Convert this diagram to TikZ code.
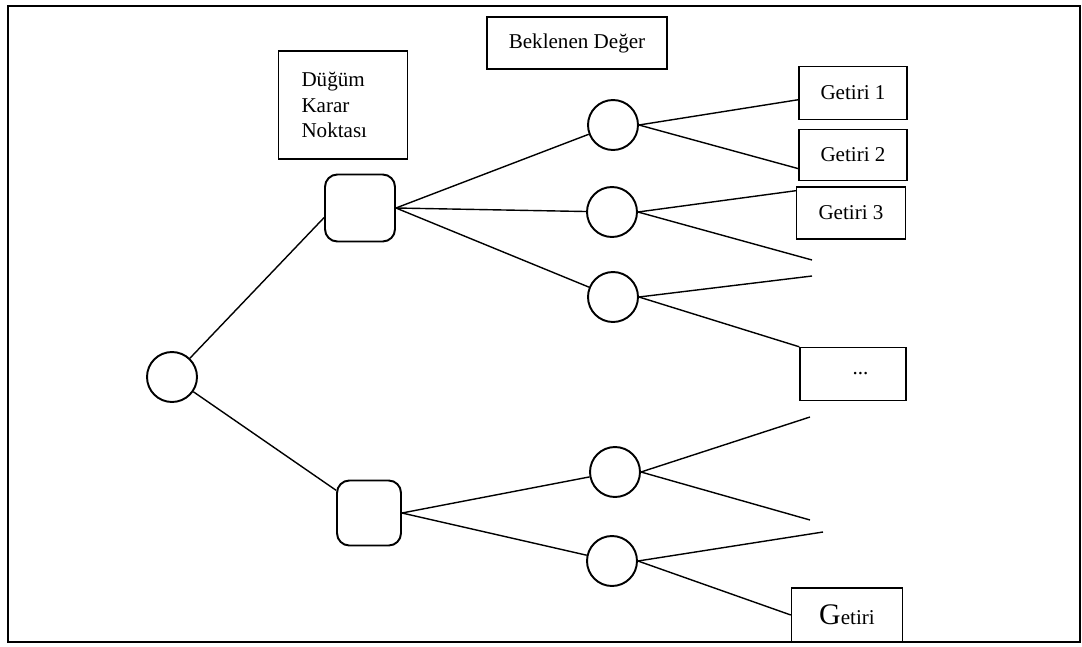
\documentclass[tikz,border=0pt]{standalone}
\usepackage{fontspec}
\setmainfont{Liberation Serif}
\usetikzlibrary{calc}

\begin{document}
\begin{tikzpicture}[x=0.02cm, y=-0.02cm,
	chance/.style={draw, circle, line width=1.1pt, minimum size=1cm, inner sep=0pt},
	decision/.style={draw, rounded corners=7pt, line width=1.1pt, inner sep=0pt},
	textbox/.style={draw, line width=0.8pt, inner sep=0pt, font=\fontsize{12}{14.5}\selectfont},
	payoff/.style={textbox, minimum width=2.16cm, minimum height=1.06cm},
	branch/.style={line width=0.8pt}]

	%page frame
	\useasboundingbox (0,0) rectangle (1082,646);
	\draw[line width=1.3pt] (8,6) rectangle (1080,642);

	%root and decision points
	\node[chance] (root) at (172,377) {};
	\node[decision, minimum width=1.4cm, minimum height=1.34cm] (sq1) at (360,208) {};
	\node[decision, minimum width=1.28cm, minimum height=1.3cm] (sq2) at (369,513) {};

	%chance points
	\node[chance] (c1) at (613,125) {};
	\node[chance] (c2) at (612,212) {};
	\node[chance] (c3) at (613,297) {};
	\node[chance] (c4) at (615,472) {};
	\node[chance] (c5) at (612,561) {};

	%labels
	\node[textbox, minimum width=2.58cm, minimum height=2.16cm, text width=1.66cm,
		inner xsep=0.46cm, align=left] (karar) at (343,105) {Düğüm\\Karar\\Noktası};
	\node[textbox, minimum width=3.6cm, minimum height=1.04cm] (beklenen) at (577,43) {Beklenen Değer};

	%payoffs
	\node[payoff] (g1) at (853,93) {Getiri 1};
	\node[payoff, minimum height=1.02cm] (g2) at (853,155) {Getiri 2};
	\node[payoff, minimum width=2.18cm, minimum height=1.04cm] (g3) at (851,213) {Getiri 3};
	\node[payoff, minimum width=2.12cm] (dots) at (853,374) {\hspace{0.3cm}...};
	\node[payoff, minimum width=2.22cm, minimum height=1.08cm] (gb) at (847,615)
		{{\fontsize{17}{20}\selectfont G}etiri};

	%open branch ends
	\coordinate (e1) at (812,260);
	\coordinate (e2) at (812,276);
	\coordinate (e3) at (810,417);
	\coordinate (e4) at (810,520);
	\coordinate (e5) at (823,532);

	%branches
	\draw[branch] (root) -- (sq1.195);
	\draw[branch] (root) -- (sq2);
	\draw[branch] (sq1.east) -- (c1);
	\draw[branch] (sq1.east) -- (c2);
	\draw[branch] (sq1.east) -- (c3);
	\draw[branch] (sq2.east) -- (c4);
	\draw[branch] (sq2.east) -- (c5);
	\draw[branch] (c1.east) -- (g1.187);
	\draw[branch] (c1.east) -- (g2.194);
	\draw[branch] (c2.east) -- (g3.158);
	\draw[branch] (c2.east) -- (e1);
	\draw[branch] (c3.east) -- (e2);
	\draw[branch] (c3.east) -- (dots.north west);
	\draw[branch] (c4.east) -- (e3);
	\draw[branch] (c4.east) -- (e4);
	\draw[branch] (c5.east) -- (e5);
	\draw[branch] (c5.east) -- (gb.west);

\end{tikzpicture}
\end{document}
